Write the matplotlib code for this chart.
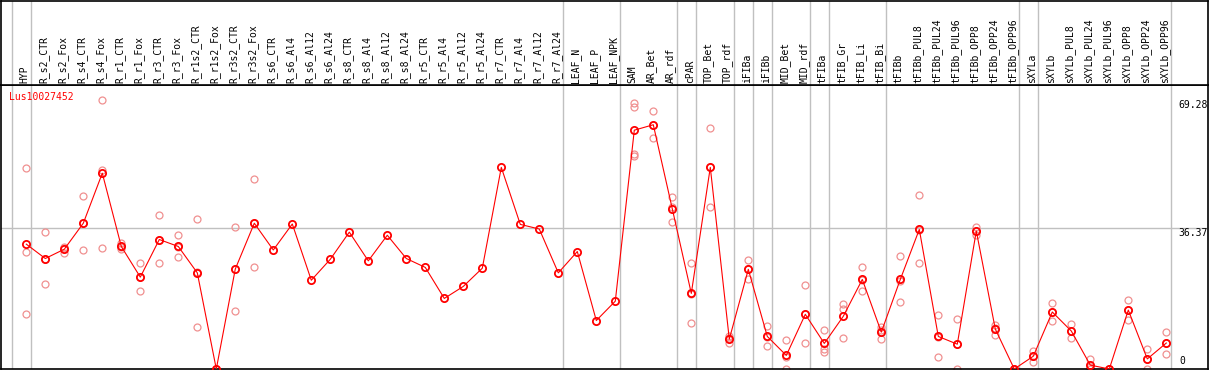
import numpy as np
import matplotlib
matplotlib.use("Agg")
import matplotlib.pyplot as plt

# --- data ---
labels = ["HYP", "R_s2_CTR", "R_s2_Fox", "R_s4_CTR", "R_s4_Fox", "R_r1_CTR", "R_r1_Fox",
          "R_r3_CTR", "R_r3_Fox", "R_r1s2_CTR", "R_r1s2_Fox", "R_r3s2_CTR", "R_r3s2_Fox",
          "R_s6_CTR", "R_s6_Al4", "R_s6_Al12", "R_s6_Al24", "R_s8_CTR", "R_s8_Al4",
          "R_s8_Al12", "R_s8_Al24", "R_r5_CTR", "R_r5_Al4", "R_r5_Al12", "R_r5_Al24",
          "R_r7_CTR", "R_r7_Al4", "R_r7_Al12", "R_r7_Al24", "LEAF_N", "LEAF_P", "LEAF_NPK",
          "SAM", "AR_Bet", "AR_rdf", "cPAR", "TOP_Bet", "TOP_rdf", "iFIBa", "iFIBb",
          "MID_Bet", "MID_rdf", "tFIBa", "tFIB_Gr", "tFIB_Li", "tFIB_Bi", "tFIBb",
          "tFIBb_PUL8", "tFIBb_PUL24", "tFIBb_PUL96", "tFIBb_OPP8", "tFIBb_OPP24",
          "tFIBb_OPP96", "sXYLa", "sXYLb", "sXYLb_PUL8", "sXYLb_PUL24", "sXYLb_PUL96",
          "sXYLb_OPP8", "sXYLb_OPP24", "sXYLb_OPP96"]

means = [32.2, 28.5, 30.9, 37.6, 50.5, 31.6, 23.7, 33.4, 31.6, 24.8, 0.0, 25.8, 37.6,
         30.7, 37.4, 22.9, 28.3, 35.3, 27.9, 34.5, 28.5, 26.2, 18.2, 21.3, 26.0,
         52.0, 37.3, 36.1, 24.8, 30.3, 12.5, 17.5,
         61.6, 63.0, 41.3, 19.5, 52.0, 7.7, 25.7, 8.4, 3.5, 14.1, 6.6, 13.6, 23.1, 9.5, 23.1,
         36.0, 8.4, 6.4, 35.6, 10.3, 0.0, 3.3, 14.7, 9.8, 1.0, 0.0, 15.2, 2.6, 6.7]

replicates = [
    [51.8, 30.3, 14.1], [35.3, 21.8, 28.4], [31.5, 30.0, 31.3], [44.6, 30.6, 37.6],
    [69.28, 31.1, 51.3], [32.5, 31.0, 31.4], [27.3, 20.0, 23.8], [39.6, 27.3, 33.3],
    [34.5, 28.9, 31.4], [38.6, 10.8, 25.0], [0.0, 0.0, 0.0], [36.7, 15.0, 25.7],
    [48.9, 26.2, 37.7],
    [], [], [], [], [], [], [], [], [], [], [], [], [], [], [], [], [], [], [],
    [68.7, 67.7, 55.5, 54.9], [66.5, 59.5, 63.0], [44.4, 37.8, 41.7], [27.3, 11.8, 19.4],
    [62.1, 41.8, 52.1], [8.6, 6.6, 7.9], [28.0, 23.2, 25.9], [11.0, 5.9, 8.3],
    [7.4, 0.0, 3.1], [21.6, 6.6, 14.1], [10.1, 5.1, 4.5], [16.8, 15.6, 8.0],
    [26.2, 20.1, 23.0], [10.8, 7.7, 10.0], [29.2, 17.3, 22.8],
    [44.8, 27.3, 35.9], [13.8, 3.1, 8.3], [12.8, 0.0, 6.4], [36.5, 34.6, 35.7],
    [11.4, 8.8, 10.7], [0.0, 0.0, 0.0], [4.6, 1.9, 3.4], [16.9, 12.5, 14.7],
    [11.5, 8.1, 9.8], [2.5, 0.0, 0.5], [0.0, 0.0, 0.0], [17.8, 12.6, 15.2],
    [5.2, 0.0, 2.6], [9.5, 3.8, 6.8]]

# last sample index of each group (separator lines)
group_ends = [-1, 0, 28, 31, 34, 35, 37, 38, 39, 41, 42, 45, 52, 53, 60]
ytick_vals = [0, 36.37, 69.28]
gene = "Lus10027452"

# --- layout ---
W, H = 1209, 370
fig = plt.figure(figsize=(W / 100, H / 100), dpi=100)
mono = "DejaVu Sans Mono"
grid_c = "#c0c0c0"
rep_c = "#f09090"

x = np.arange(len(labels))
px = 19.0
x0 = 26.3
xl = ((1 - x0) / px, (1208 - x0) / px)

ax = fig.add_axes([1 / W, 1 / H, 1207 / W, 284 / H])
ax.set_xlim(*xl)
ax.set_ylim(0, 284 / 3.877)
hd = fig.add_axes([1 / W, 285 / H, 1207 / W, 84.5 / H])
hd.set_xlim(*xl)
hd.set_ylim(0, 1)

for a in (ax, hd):
    a.set_xticks([])
    a.set_yticks([])
    for s in a.spines.values():
        s.set_color("black")
        s.set_linewidth(1.2)
    for g in group_ends:
        a.axvline(g + 0.23, color=grid_c, lw=1.0, zorder=0)

ax.axhline(ytick_vals[1], color=grid_c, lw=1.0, zorder=0)

for i, reps in enumerate(replicates):
    if reps:
        ax.plot([i] * len(reps), reps, "o", ms=5, mfc="none", mec=rep_c, mew=0.9,
                clip_on=True, zorder=2)

ax.plot(x, means, "-", color="red", lw=0.8, zorder=3)
ax.plot(x, means, "o", ms=5.2, mfc="none", mec="red", mew=1.3, zorder=4)

for i, lab in enumerate(labels):
    hd.text(i - 0.08, 0.02, lab, rotation=90, ha="center", va="bottom",
            family=mono, fontsize=7)

yt = ax.get_yaxis_transform()
ax.text(0.9755, ytick_vals[2], f"{ytick_vals[2]:.2f}", transform=yt, ha="left", va="top",
        family=mono, fontsize=7)
ax.text(0.9755, ytick_vals[1], f"{ytick_vals[1]:.2f}", transform=yt, ha="left", va="top",
        family=mono, fontsize=7)
ax.text(0.9765, ytick_vals[0] + 0.8, "0", transform=yt, ha="left", va="bottom",
        family=mono, fontsize=7)

ax.text(0.0069, 0.975, gene, transform=ax.transAxes, ha="left", va="top",
        family=mono, fontsize=7, color="red")

fig.savefig("out.png", dpi=100)
